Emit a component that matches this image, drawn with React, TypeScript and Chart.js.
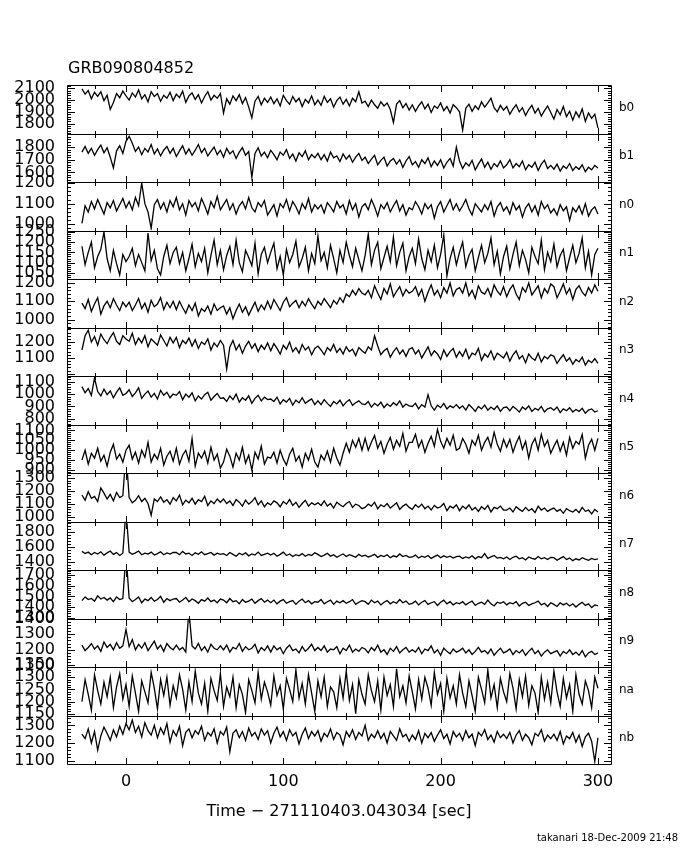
import React, { useEffect, useRef } from 'react';
import { Chart, registerables } from 'chart.js';

Chart.register(...registerables);

// ---------- data ----------
const T_START = -28;
const T_STEP = 2;
const N_BINS = 165;
const TIMES: number[] = Array.from({ length: N_BINS }, (_, i) => T_START + i * T_STEP);

const DETECTORS = ['b0', 'b1', 'n0', 'n1', 'n2', 'n3', 'n4', 'n5', 'n6', 'n7', 'n8', 'n9', 'na', 'nb'];

const Y_MIN = [1717, 1524, 970, 1020, 957, 986, 754, 885, 967, 1289, 1292, 1090, 1143, 1081];
const Y_MAX = [2127, 1907, 1205, 1257, 1222, 1292, 1146, 1130, 1339, 1943, 1748, 1400, 1342, 1356];
const Y_TICKS = [
  [1800, 1900, 2000, 2100],
  [1600, 1700, 1800],
  [1000, 1100, 1200],
  [1050, 1100, 1150, 1200, 1250],
  [1000, 1100, 1200],
  [1100, 1200],
  [800, 900, 1000, 1100],
  [900, 950, 1000, 1050, 1100],
  [1000, 1100, 1200, 1300],
  [1400, 1600, 1800],
  [1300, 1400, 1500, 1600, 1700],
  [1100, 1200, 1300, 1400],
  [1150, 1200, 1250, 1300, 1350],
  [1100, 1200, 1300],
];

const X_MIN = -37.5;
const X_MAX = 308.3;
const X_TICKS = [0, 100, 200, 300];
const X_MINOR = [-20, 0, 20, 40, 60, 80, 100, 120, 140, 160, 180, 200, 220, 240, 260, 280, 300];

const TITLE = 'GRB090804852';
const X_TITLE = 'Time \u2212 271110403.043034 [sec]';
const FOOTER = 'takanari 18-Dec-2009 21:48';

const B0 = [
  2095, 2050, 2080, 2010, 2065, 2030, 2070, 1995, 2040, 1920, 1980, 2055, 2020, 2075, 2035,
  2000, 2060, 2025, 2085, 2010, 2045, 1985, 2070, 2030, 2055, 1990, 2040, 2015, 2065, 1995,
  2050, 2020, 2075, 1980, 2035, 2060, 2005, 2045, 1975, 2030, 2070, 2000, 2040, 2015, 2055,
  1890, 2010, 1965, 2035, 1995, 2045, 1970, 2020, 1940, 1850, 1990, 2030, 1960, 2015, 1980,
  2025, 1970, 2010, 1950, 2040, 1995, 1965, 2030, 1985, 2015, 1945, 2005, 1975, 2035, 1960,
  2000, 1955, 2030, 1980, 2010, 1940, 1995, 2025, 1965, 2005, 1950, 2015, 1985, 2070, 1975,
  1990, 1945, 2000, 1960, 1930, 1985, 1950, 1975, 1920, 1810, 1965, 1995, 1935, 1970, 1915,
  1960, 1905, 1950, 1985, 1925, 1965, 1895, 1950, 1930, 1975, 1910, 1945, 1890, 1960, 1935,
  1900, 1745, 1930, 1965, 1905, 1950, 1920, 1985, 1940, 1975, 2015, 1935, 1900, 1955, 1915,
  1945, 1880, 1925, 1960, 1900, 1935, 1870, 1920, 1955, 1890, 1930, 1865, 1910, 1950, 1895,
  1840, 1920, 1875, 1945, 1860, 1905, 1830, 1900, 1855, 1925, 1820, 1890, 1845, 1880, 1765,
];
const B1 = [
  1760, 1805, 1750, 1790, 1735, 1780, 1815, 1755, 1795, 1720, 1635, 1770, 1810, 1750, 1845,
  1885, 1830, 1765, 1800, 1740, 1790, 1760, 1820, 1745, 1785, 1730, 1775, 1805, 1750, 1790,
  1725, 1770, 1810, 1745, 1785, 1735, 1775, 1820, 1755, 1790, 1730, 1765, 1800, 1740, 1775,
  1720, 1790, 1745, 1770, 1710, 1760, 1795, 1735, 1765, 1560, 1750, 1795, 1730, 1760, 1715,
  1775, 1740, 1700, 1760, 1735, 1780, 1710, 1745, 1690, 1755, 1725, 1770, 1700, 1740, 1715,
  1750, 1700, 1740, 1690, 1760, 1715, 1730, 1685, 1745, 1705, 1735, 1680, 1720, 1750, 1695,
  1720, 1670, 1705, 1735, 1660, 1695, 1720, 1650, 1690, 1710, 1665, 1700, 1640, 1690, 1725,
  1660, 1685, 1640, 1700, 1670, 1715, 1645, 1690, 1655, 1700, 1635, 1680, 1710, 1650, 1800,
  1690, 1630, 1675, 1650, 1695, 1620, 1665, 1705, 1640, 1680, 1625, 1670, 1645, 1690, 1635,
  1660, 1700, 1635, 1670, 1645, 1690, 1620, 1660, 1640, 1680, 1615, 1665, 1695, 1630, 1655,
  1625, 1665, 1610, 1650, 1630, 1670, 1615, 1645, 1625, 1660, 1605, 1640, 1620, 1655, 1635,
];
const N0 = [
  1005, 1090, 1060, 1110, 1075, 1120, 1085, 1050, 1105, 1080, 1115, 1065, 1095, 1125, 1080,
  1110, 1070, 1130, 1090, 1200, 1100, 1060, 980, 1095, 1120, 1075, 1105, 1060, 1115, 1085,
  1130, 1070, 1100, 1045, 1115, 1085, 1105, 1065, 1125, 1090, 1050, 1110, 1080, 1135, 1070,
  1095, 1120, 1070, 1100, 1050, 1090, 1110, 1075, 1130, 1080, 1060, 1105, 1085, 1115, 1045,
  1070, 1095, 1040, 1100, 1080, 1120, 1065, 1110, 1085, 1050, 1100, 1075, 1125, 1060, 1095,
  1075, 1095, 1055, 1105, 1085, 1060, 1110, 1080, 1095, 1050, 1115, 1070, 1100, 1035, 1085,
  1100, 1070, 1120, 1085, 1040, 1095, 1075, 1105, 1060, 1090, 1115, 1065, 1095, 1045, 1080,
  1070, 1110, 1085, 1050, 1100, 1075, 1095, 1030, 1085, 1110, 1060, 1090, 1120, 1070, 1100,
  1065, 1090, 1120, 1075, 1045, 1100, 1080, 1060, 1095, 1070, 1110, 1040, 1085, 1105, 1065,
  1085, 1050, 1105, 1070, 1090, 1035, 1080, 1100, 1060, 1090, 1045, 1110, 1075, 1095, 1055,
  1075, 1045, 1095, 1065, 1085, 1020, 1080, 1060, 1090, 1050, 1100, 1040, 1070, 1085, 1050,
];
const N1 = [
  1180, 1090, 1150, 1200, 1075, 1130, 1165, 1250, 1120, 1060, 1160, 1095, 1040, 1140, 1105,
  1130, 1170, 1085, 1140, 1100, 1060, 1245, 1110, 1160, 1070, 1040, 1130, 1185, 1095, 1150,
  1175, 1095, 1150, 1060, 1120, 1190, 1080, 1145, 1105, 1170, 1050, 1135, 1210, 1090, 1160,
  1065, 1135, 1180, 1090, 1210, 1100, 1055, 1160, 1125, 1085, 1195, 1045, 1140, 1175, 1100,
  1150, 1195, 1070, 1130, 1040, 1165, 1100, 1140, 1205, 1080, 1120, 1175, 1060, 1145, 1095,
  1230, 1110, 1150, 1075, 1185, 1120, 1050, 1160, 1100, 1200, 1135, 1080, 1170, 1115, 1060,
  1135, 1240, 1090, 1160, 1200, 1070, 1125, 1180, 1105, 1225, 1085, 1150, 1195, 1060, 1130,
  1170, 1095, 1215, 1120, 1065, 1160, 1105, 1185, 1075, 1140, 1235, 1035, 1120, 1175, 1090,
  1150, 1200, 1080, 1135, 1165, 1060, 1125, 1185, 1100, 1145, 1220, 1090, 1155, 1045, 1130,
  1180, 1070, 1140, 1200, 1085, 1160, 1115, 1050, 1175, 1130, 1095, 1210, 1065, 1150, 1105,
  1190, 1080, 1135, 1165, 1060, 1125, 1185, 1100, 1145, 1220, 1075, 1155, 1040, 1140, 1170,
];
const N2 = [
  1090, 1060, 1110, 1045, 1085, 1120, 1030, 1075, 1100, 1065, 1115, 1080, 1050, 1095, 1070,
  1095, 1050, 1080, 1115, 1060, 1090, 1040, 1105, 1070, 1085, 1120, 1055, 1095, 1065, 1100,
  1055, 1100, 1065, 1035, 1080, 1050, 1090, 1020, 1060, 1045, 1075, 1030, 1085, 1050, 1065,
  1075, 1030, 1065, 1005, 1050, 1085, 1040, 1070, 1025, 1060, 1095, 1045, 1080, 1055, 1100,
  1060, 1110, 1080, 1050, 1095, 1120, 1070, 1090, 1105, 1065, 1100, 1075, 1115, 1085, 1060,
  1100, 1080, 1115, 1090, 1065, 1105, 1085, 1120, 1095, 1140, 1125, 1160, 1135, 1170, 1145,
  1135, 1160, 1120, 1185, 1145, 1110, 1170, 1140, 1195, 1125, 1155, 1180, 1130, 1165, 1145,
  1155, 1180, 1130, 1165, 1100, 1150, 1190, 1135, 1160, 1120, 1175, 1145, 1200, 1130, 1165,
  1175, 1145, 1200, 1130, 1160, 1115, 1185, 1150, 1140, 1170, 1125, 1190, 1155, 1135, 1180,
  1125, 1165, 1190, 1140, 1110, 1175, 1150, 1200, 1135, 1160, 1185, 1120, 1170, 1145, 1195,
  1180, 1120, 1155, 1195, 1140, 1170, 1110, 1165, 1185, 1150, 1130, 1175, 1145, 1190, 1155,
];
const N3 = [
  1150, 1240, 1275, 1200, 1235, 1180, 1250, 1215, 1190, 1230, 1260, 1205, 1185, 1240, 1220,
  1205, 1255, 1185, 1225, 1195, 1240, 1170, 1220, 1200, 1180, 1245, 1210, 1175, 1230, 1195,
  1230, 1165, 1210, 1190, 1225, 1175, 1215, 1160, 1200, 1185, 1220, 1150, 1195, 1170, 1210,
  1180, 1030, 1170, 1210, 1150, 1185, 1130, 1175, 1205, 1160, 1190, 1140, 1180, 1155, 1195,
  1145, 1190, 1160, 1125, 1180, 1155, 1200, 1140, 1165, 1130, 1185, 1150, 1170, 1120, 1160,
  1175, 1150, 1120, 1165, 1145, 1185, 1135, 1160, 1125, 1170, 1140, 1155, 1115, 1165, 1145,
  1130, 1170, 1150, 1240, 1175, 1120, 1145, 1160, 1105, 1140, 1165, 1125, 1150, 1110, 1155,
  1165, 1125, 1150, 1100, 1135, 1170, 1115, 1145, 1125, 1090, 1150, 1110, 1140, 1160, 1105,
  1140, 1110, 1155, 1095, 1130, 1120, 1160, 1085, 1125, 1105, 1145, 1090, 1130, 1115, 1100,
  1135, 1080, 1120, 1145, 1095, 1115, 1070, 1125, 1100, 1085, 1130, 1075, 1110, 1095, 1120,
  1110, 1065, 1095, 1120, 1080, 1100, 1060, 1090, 1075, 1105, 1055, 1085, 1070, 1095, 1065,
];
const N4 = [
  1060, 1010, 1045, 990, 1130, 1020, 985, 1040, 995, 1025, 970, 1015, 1050, 990, 1005,
  1035, 980, 1010, 1050, 965, 1000, 1025, 975, 1005, 960, 1030, 990, 1015, 970, 1000,
  990, 1020, 955, 1000, 975, 1010, 945, 985, 960, 995, 1015, 950, 980, 1005, 965,
  970, 940, 985, 955, 1000, 935, 970, 950, 985, 925, 965, 990, 945, 975, 955,
  960, 940, 975, 920, 955, 935, 965, 910, 950, 930, 970, 925, 945, 960, 915,
  945, 915, 955, 925, 900, 940, 920, 950, 905, 935, 955, 910, 930, 945, 920,
  915, 940, 895, 925, 905, 935, 890, 920, 900, 930, 910, 945, 895, 920, 905,
  900, 925, 880, 915, 895, 995, 905, 870, 910, 890, 925, 880, 905, 890, 915,
  885, 905, 870, 915, 890, 860, 900, 880, 910, 870, 895, 875, 905, 860, 890,
  895, 865, 900, 880, 855, 895, 875, 905, 860, 885, 870, 900, 855, 880, 890,
  870, 895, 850, 880, 865, 890, 855, 875, 860, 885, 845, 870, 880, 855, 865,
];
const N5 = [
  950, 1000, 930, 985, 960, 1010, 945, 975, 920, 990, 1030, 955, 980, 940, 1000,
  1025, 955, 990, 935, 1000, 965, 1040, 940, 980, 955, 1010, 925, 970, 995, 945,
  1010, 930, 975, 1000, 945, 1060, 920, 985, 960, 995, 935, 1015, 950, 980, 910,
  940, 1005, 970, 915, 985, 950, 1015, 935, 975, 900, 990, 955, 1020, 930, 965,
  960, 990, 935, 1000, 955, 925, 980, 1010, 945, 970, 915, 985, 950, 1005, 940,
  915, 975, 950, 995, 940, 1010, 960, 925, 985, 1035, 990, 1050, 1015, 1060, 1000,
  1060, 1000, 1040, 1075, 1010, 1045, 985, 1030, 1065, 1005, 1050, 1020, 1085, 995, 1040,
  1040, 1080, 1015, 1050, 990, 1035, 1070, 1020, 1105, 1045, 1010, 1060, 1025, 1075, 1000,
  1010, 1060, 1030, 985, 1050, 1025, 1075, 1000, 1040, 1065, 1015, 1090, 1030, 995, 1055,
  1015, 1055, 990, 1035, 1070, 1005, 1045, 960, 1030, 1060, 1000, 1080, 1020, 1050, 985,
  1020, 1050, 995, 1040, 975, 1065, 1010, 1045, 1030, 1080, 960, 1025, 1055, 1000, 1060,
];
const N6 = [
  1170, 1130, 1195, 1145, 1160, 1120, 1225, 1185, 1140, 1175, 1125, 1190, 1150, 1165, 1500,
  1150, 1110, 1130, 1165, 1120, 1145, 1105, 1015, 1140, 1120, 1155, 1115, 1135, 1100, 1150,
  1125, 1170, 1095, 1130, 1110, 1145, 1100, 1135, 1120, 1160, 1090, 1125, 1105, 1140, 1115,
  1140, 1105, 1125, 1090, 1135, 1115, 1085, 1130, 1100, 1120, 1150, 1095, 1125, 1080, 1110,
  1095, 1125, 1110, 1080, 1120, 1100, 1135, 1090, 1115, 1075, 1105, 1130, 1085, 1110, 1095,
  1110, 1090, 1125, 1085, 1105, 1070, 1115, 1095, 1080, 1105, 1120, 1075, 1100, 1090, 1065,
  1075, 1100, 1085, 1115, 1065, 1095, 1080, 1105, 1070, 1090, 1110, 1060, 1085, 1100, 1075,
  1060, 1095, 1075, 1100, 1065, 1085, 1055, 1090, 1070, 1080, 1105, 1050, 1085, 1070, 1095,
  1050, 1085, 1065, 1095, 1055, 1075, 1045, 1080, 1060, 1090, 1040, 1075, 1065, 1085, 1055,
  1055, 1070, 1040, 1080, 1060, 1045, 1075, 1050, 1065, 1035, 1085, 1055, 1070, 1045, 1060,
  1070, 1045, 1060, 1030, 1065, 1050, 1040, 1060, 1035, 1075, 1045, 1055, 1025, 1060, 1040,
];
const N7 = [
  1540, 1510, 1530, 1495, 1525, 1505, 1535, 1490, 1520, 1545, 1500, 1525, 1485, 1515, 2100,
  1530, 1500, 1520, 1545, 1495, 1515, 1505, 1530, 1490, 1510, 1535, 1495, 1520, 1505, 1525,
  1525, 1495, 1540, 1505, 1515, 1485, 1520, 1500, 1535, 1495, 1510, 1525, 1490, 1515, 1500,
  1510, 1485, 1525, 1500, 1475, 1515, 1495, 1520, 1480, 1505, 1490, 1530, 1485, 1500, 1515,
  1490, 1515, 1475, 1500, 1530, 1485, 1505, 1470, 1495, 1480, 1510, 1475, 1500, 1485, 1520,
  1500, 1470, 1490, 1515, 1475, 1495, 1460, 1485, 1505, 1470, 1495, 1480, 1460, 1500, 1475,
  1490, 1465, 1480, 1500, 1460, 1485, 1470, 1495, 1455, 1480, 1465, 1505, 1470, 1485, 1460,
  1465, 1490, 1450, 1475, 1460, 1485, 1445, 1470, 1490, 1455, 1480, 1460, 1475, 1450, 1470,
  1475, 1445, 1465, 1450, 1480, 1440, 1470, 1455, 1510, 1445, 1465, 1485, 1450, 1460, 1440,
  1465, 1430, 1460, 1475, 1440, 1455, 1425, 1465, 1445, 1435, 1470, 1440, 1455, 1430, 1460,
  1455, 1420, 1445, 1470, 1430, 1450, 1415, 1440, 1425, 1455, 1435, 1420, 1445, 1430, 1440,
];
const N8 = [
  1460, 1495, 1470, 1480, 1455, 1505, 1475, 1490, 1465, 1485, 1450, 1495, 1470, 1480, 1900,
  1485, 1450, 1470, 1495, 1440, 1475, 1460, 1490, 1455, 1470, 1500, 1445, 1480, 1460, 1475,
  1480, 1445, 1465, 1490, 1450, 1475, 1460, 1435, 1470, 1455, 1485, 1450, 1465, 1440, 1475,
  1465, 1440, 1480, 1450, 1460, 1430, 1470, 1445, 1455, 1475, 1435, 1460, 1480, 1445, 1465,
  1440, 1465, 1430, 1455, 1470, 1435, 1450, 1460, 1425, 1455, 1475, 1440, 1460, 1430, 1450,
  1445, 1470, 1430, 1450, 1465, 1425, 1455, 1440, 1460, 1435, 1450, 1470, 1425, 1445, 1460,
  1450, 1425, 1465, 1440, 1455, 1420, 1445, 1460, 1430, 1450, 1435, 1470, 1440, 1455, 1425,
  1435, 1455, 1420, 1445, 1460, 1425, 1440, 1450, 1415, 1445, 1465, 1430, 1450, 1420, 1440,
  1430, 1450, 1420, 1440, 1455, 1415, 1435, 1445, 1425, 1465, 1430, 1410, 1445, 1435, 1450,
  1420, 1440, 1430, 1450, 1410, 1435, 1445, 1415, 1430, 1440, 1455, 1420, 1435, 1405, 1440,
  1425, 1405, 1440, 1420, 1435, 1410, 1430, 1400, 1425, 1445, 1415, 1430, 1395, 1420, 1410,
];
const N9 = [
  1230, 1195, 1215, 1240, 1205, 1225, 1190, 1250, 1215, 1235, 1200, 1245, 1210, 1225, 1330,
  1220, 1265, 1200, 1235, 1210, 1245, 1195, 1225, 1255, 1205, 1230, 1190, 1240, 1215, 1200,
  1230, 1200, 1215, 1185, 1450, 1225, 1205, 1240, 1195, 1220, 1185, 1235, 1210, 1200, 1225,
  1200, 1230, 1185, 1215, 1205, 1240, 1190, 1220, 1200, 1210, 1235, 1180, 1215, 1195, 1225,
  1185, 1225, 1200, 1215, 1175, 1210, 1230, 1195, 1205, 1180, 1220, 1190, 1210, 1235, 1195,
  1215, 1195, 1225, 1185, 1205, 1200, 1220, 1175, 1210, 1195, 1230, 1185, 1205, 1190, 1215,
  1205, 1180, 1215, 1195, 1230, 1185, 1200, 1170, 1210, 1190, 1220, 1180, 1200, 1215, 1185,
  1200, 1185, 1215, 1175, 1205, 1195, 1225, 1180, 1200, 1165, 1210, 1190, 1175, 1205, 1185,
  1195, 1210, 1180, 1200, 1170, 1190, 1215, 1185, 1195, 1175, 1205, 1165, 1190, 1210, 1180,
  1190, 1205, 1170, 1195, 1180, 1200, 1165, 1190, 1210, 1175, 1195, 1160, 1185, 1200, 1175,
  1185, 1195, 1160, 1190, 1175, 1200, 1170, 1185, 1165, 1195, 1155, 1180, 1190, 1170, 1180,
];
const NA = [
  1200, 1290, 1230, 1165, 1310, 1245, 1190, 1280, 1220, 1300, 1175, 1260, 1315, 1210, 1270,
  1180, 1305, 1235, 1160, 1285, 1240, 1195, 1320, 1255, 1170, 1290, 1225, 1300, 1185, 1265,
  1215, 1310, 1250, 1165, 1280, 1200, 1325, 1235, 1190, 1275, 1160, 1295, 1245, 1205, 1315,
  1180, 1260, 1220, 1300, 1175, 1270, 1230, 1155, 1290, 1245, 1195, 1320, 1210, 1280, 1240,
  1185, 1305, 1225, 1265, 1170, 1295, 1250, 1200, 1330, 1215, 1275, 1190, 1310, 1235, 1160,
  1285, 1220, 1300, 1180, 1260, 1240, 1175, 1295, 1215, 1325, 1205, 1270, 1150, 1290, 1230,
  1190, 1310, 1245, 1200, 1285, 1165, 1300, 1225, 1270, 1180, 1335, 1220, 1265, 1195, 1305,
  1240, 1170, 1290, 1210, 1300, 1255, 1185, 1320, 1230, 1275, 1160, 1295, 1215, 1265, 1190,
  1310, 1235, 1180, 1285, 1225, 1160, 1300, 1250, 1195, 1330, 1215, 1270, 1175, 1295, 1240,
  1200, 1315, 1255, 1170, 1290, 1220, 1305, 1185, 1265, 1235, 1155, 1300, 1210, 1280, 1195,
  1325, 1240, 1180, 1295, 1215, 1270, 1160, 1310, 1230, 1190, 1285, 1245, 1175, 1300, 1255,
];
const NB = [
  1250, 1225, 1280, 1200, 1265, 1160, 1240, 1290, 1255, 1215, 1275, 1235, 1295, 1250, 1310,
  1275, 1330, 1260, 1295, 1235, 1315, 1270, 1245, 1300, 1230, 1285, 1250, 1310, 1205, 1270,
  1240, 1295, 1185, 1260, 1280, 1230, 1270, 1250, 1295, 1215, 1260, 1240, 1280, 1200, 1265,
  1245, 1290, 1150, 1255, 1275, 1230, 1265, 1215, 1285, 1240, 1260, 1220, 1280, 1245, 1270,
  1200, 1255, 1290, 1235, 1265, 1215, 1275, 1240, 1260, 1195, 1250, 1285, 1225, 1265, 1240,
  1270, 1210, 1255, 1235, 1280, 1220, 1260, 1245, 1190, 1265, 1235, 1275, 1220, 1260, 1240,
  1300, 1215, 1250, 1230, 1270, 1225, 1255, 1200, 1265, 1240, 1215, 1280, 1235, 1250, 1210,
  1245, 1220, 1270, 1200, 1255, 1230, 1260, 1210, 1245, 1275, 1225, 1250, 1195, 1265, 1235,
  1255, 1215, 1270, 1230, 1250, 1185, 1260, 1240, 1275, 1220, 1245, 1205, 1265, 1230, 1250,
  1225, 1260, 1200, 1245, 1270, 1215, 1250, 1230, 1190, 1255, 1240, 1275, 1210, 1245, 1225,
  1250, 1215, 1265, 1195, 1240, 1225, 1260, 1205, 1245, 1180, 1235, 1255, 1210, 1095, 1230,
];

const SERIES = [B0, B1, N0, N1, N2, N3, N4, N5, N6, N7, N8, N9, NA, NB];

// ---------- style ----------
const FONT = "'DejaVu Sans', 'Liberation Sans', sans-serif";
const CANVAS_W = 680;
const CANVAS_H = 850;
const AREA_LEFT = 67;
const AREA_RIGHT = 611;
const AREA_TOP = 85;
const AREA_BOTTOM = 764;

const framePlugin = {
  id: 'gbmFrames',
  beforeDatasetDraw(chart: any, args: any) {
    const meta = chart.getDatasetMeta(args.index);
    const ys = meta.yScale;
    const area = chart.chartArea;
    const ctx = chart.ctx;
    ctx.save();
    ctx.beginPath();
    ctx.rect(area.left, ys.top, area.right - area.left, ys.bottom - ys.top);
    ctx.clip();
  },
  afterDatasetDraw(chart: any) {
    chart.ctx.restore();
  },
  afterDraw(chart: any) {
    const ctx = chart.ctx;
    const xs = chart.scales.x;
    const area = chart.chartArea;
    const left = Math.round(area.left);
    const right = Math.round(area.right);
    ctx.save();
    ctx.strokeStyle = '#000';
    ctx.fillStyle = '#000';
    ctx.lineWidth = 1;
    DETECTORS.forEach((name, k) => {
      const ys = chart.scales['y' + k];
      const top = Math.round(ys.top);
      const bottom = Math.round(ys.bottom);
      ctx.beginPath();
      ctx.rect(left + 0.5, top + 0.5, right - left, bottom - top);
      ctx.stroke();
      const ticks = Y_TICKS[k];
      const step = ticks[1] - ticks[0];
      const minor = step / 5;
      ctx.beginPath();
      for (let v = Math.ceil(Y_MIN[k] / minor) * minor; v <= Y_MAX[k]; v += minor) {
        const py = Math.round(ys.getPixelForValue(v)) + 0.5;
        const r = v / step;
        const isMajor = Math.abs(r - Math.round(r)) < 1e-6;
        const len = isMajor ? 8 : 4;
        ctx.moveTo(left, py);
        ctx.lineTo(left + len, py);
        ctx.moveTo(right + 1, py);
        ctx.lineTo(right + 1 - len, py);
      }
      X_MINOR.forEach((t) => {
        const px = Math.round(xs.getPixelForValue(t)) + 0.5;
        const len = t % 100 === 0 ? 7 : 4;
        ctx.moveTo(px, top);
        ctx.lineTo(px, top + len);
        ctx.moveTo(px, bottom + 1);
        ctx.lineTo(px, bottom + 1 - len);
      });
      ctx.stroke();
      ctx.font = `12px ${FONT}`;
      ctx.textAlign = 'left';
      ctx.textBaseline = 'middle';
      ctx.fillText(name, 619, (top + bottom) / 2 - 2);
    });
    ctx.font = `16px ${FONT}`;
    ctx.textAlign = 'left';
    ctx.textBaseline = 'middle';
    ctx.fillText(TITLE, 68, 69);
    ctx.font = `10px ${FONT}`;
    ctx.textAlign = 'right';
    ctx.fillText(FOOTER, 678, 838);
    ctx.restore();
  },
};

const plainLabel = (v: any) => String(v);

export default function App() {
  const ref = useRef<HTMLCanvasElement>(null);

  useEffect(() => {
    if (!ref.current) return;
    const scales: any = {
      x: {
        type: 'linear',
        position: 'bottom',
        min: X_MIN,
        max: X_MAX,
        afterBuildTicks: (s: any) => {
          s.ticks = X_TICKS.map((v) => ({ value: v }));
        },
        afterFit: (s: any) => {
          s.height = CANVAS_H - AREA_BOTTOM;
        },
        grid: { display: false, drawTicks: false },
        border: { display: false },
        ticks: {
          autoSkip: false,
          maxRotation: 0,
          padding: 8,
          color: '#000',
          font: { family: FONT, size: 16 },
          callback: plainLabel,
        },
        title: {
          display: true,
          text: X_TITLE,
          color: '#000',
          font: { family: FONT, size: 16 },
          padding: { top: 0, bottom: 29 },
        },
      },
    };
    DETECTORS.forEach((_, k) => {
      scales['y' + k] = {
        type: 'linear',
        position: 'left',
        stack: 'panels',
        stackWeight: 1,
        weight: DETECTORS.length - k,
        min: Y_MIN[k],
        max: Y_MAX[k],
        afterBuildTicks: (s: any) => {
          s.ticks = Y_TICKS[k].map((v) => ({ value: v }));
        },
        afterFit: (s: any) => {
          s.width = AREA_LEFT;
        },
        grid: { display: false, drawTicks: false },
        border: { display: false },
        ticks: {
          autoSkip: false,
          padding: 12,
          color: '#000',
          font: { family: FONT, size: 16 },
          callback: plainLabel,
        },
      };
    });

    const chart = new Chart(ref.current, {
      type: 'line',
      data: {
        datasets: SERIES.map((vals, k) => ({
          label: DETECTORS[k],
          data: vals.map((v, i) => ({ x: TIMES[i], y: v })),
          yAxisID: 'y' + k,
          xAxisID: 'x',
          borderColor: '#000',
          borderWidth: 1.3,
          pointRadius: 0,
          tension: 0,
          fill: false,
        })),
      },
      options: {
        responsive: false,
        animation: false,
        devicePixelRatio: 1,
        events: [],
        layout: {
          padding: { top: AREA_TOP, right: CANVAS_W - AREA_RIGHT, left: 0, bottom: 0 },
        },
        plugins: {
          legend: { display: false },
          tooltip: { enabled: false },
          title: { display: false },
        },
        scales,
      },
      plugins: [framePlugin],
    } as any);
    return () => chart.destroy();
  }, []);

  return (
    <div style={{ position: 'absolute', left: 0, top: 0, width: CANVAS_W, height: CANVAS_H, background: '#fff' }}>
      <canvas ref={ref} width={CANVAS_W} height={CANVAS_H} style={{ display: 'block', width: CANVAS_W, height: CANVAS_H }} />
    </div>
  );
}
